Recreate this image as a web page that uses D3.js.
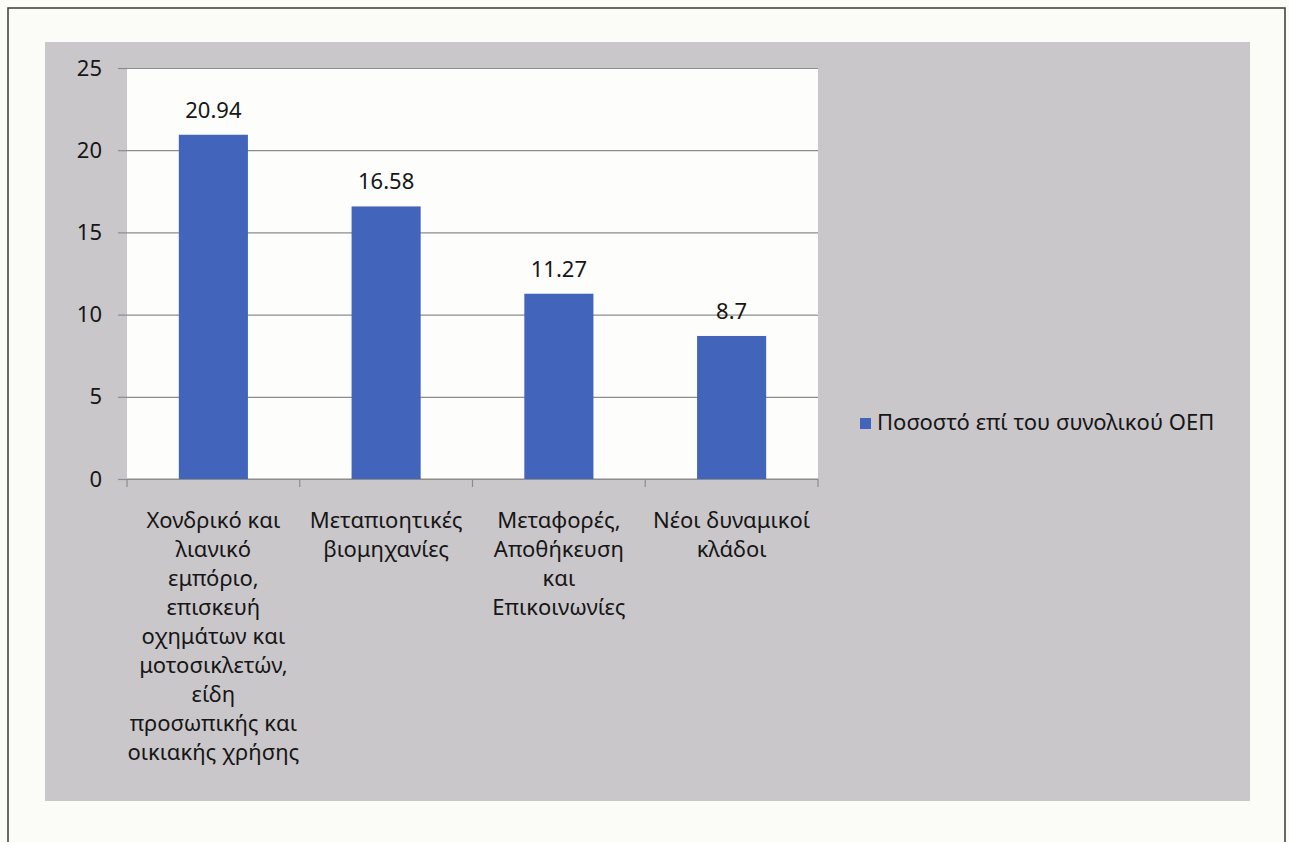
<!doctype html>
<html lang='el'>
<head>
<meta charset='UTF-8'>
<title>Bar Chart</title>
<style>
  body { margin: 0; background: #fbfbf8; }
  svg { display: block; }
  text { font-family: 'Noto Sans', sans-serif; fill: #161616; }
  .grid line { stroke: #8c8c8c; stroke-width: 1.2px; }
  .grid path { display: none; }
  .axis path, .axis line { stroke: #8c8c8c; stroke-width: 1.2px; }
  .axis text { font-size: 22px; }
</style>
</head>
<body>
<script src='https://cdn.jsdelivr.net/npm/d3@7'></script>
<script>
  const categories = [
    ['Χονδρικό και', 'λιανικό', 'εμπόριο,', 'επισκευή', 'οχημάτων και', 'μοτοσικλετών,', 'είδη', 'προσωπικής και', 'οικιακής χρήσης'],
    ['Μεταπιοητικές', 'βιομηχανίες'],
    ['Μεταφορές,', 'Αποθήκευση', 'και', 'Επικοινωνίες'],
    ['Νέοι δυναμικοί', 'κλάδοι']
  ]
  const values = [20.94, 16.58, 11.27, 8.7]
  const yTicks = [0, 5, 10, 15, 20, 25]
  const seriesName = 'Ποσοστό επί του συνολικού ΟΕΠ'

  const W = 1289, H = 842
  const plot = {left: 127, right: 818, top: 68, bottom: 479}
  const fontSize = 22

  const svg = d3.select('body').append('svg')
    .attr('width', W)
    .attr('height', H)

  // page frame
  svg.append('path')
    .attr('d', `M8,${H} V8 H1285 V${H}`)
    .attr('fill', 'none')
    .attr('stroke', '#3a3a3a')
    .attr('stroke-width', 1.5)

  // chart area
  svg.append('rect')
    .attr('x', 45).attr('y', 42)
    .attr('width', 1205).attr('height', 759)
    .attr('fill', '#cac7cb')

  svg.append('rect')
    .attr('x', plot.left).attr('y', plot.top)
    .attr('width', plot.right - plot.left).attr('height', plot.bottom - plot.top)
    .attr('fill', '#fdfdfb')

  const x = d3.scaleBand()
    .domain(d3.range(values.length))
    .range([plot.left, plot.right])
    .paddingInner(0.6)
    .paddingOuter(0.3)

  const y = d3.scaleLinear()
    .domain([0, 25])
    .range([plot.bottom, plot.top])

  svg.append('g')
    .attr('class', 'grid')
    .attr('transform', `translate(${plot.left},0)`)
    .call(d3.axisLeft(y).tickValues(yTicks).tickSize(-(plot.right - plot.left)).tickFormat(''))

  const yAxis = svg.append('g')
    .attr('class', 'axis')
    .attr('transform', `translate(${plot.left},0)`)
    .call(d3.axisLeft(y).tickValues(yTicks).tickSizeInner(9).tickSizeOuter(0).tickPadding(16))
  yAxis.select('.domain').remove()

  // x axis with ticks at category boundaries
  const step = x.step()
  const bounds = d3.range(values.length + 1)
  const xAxis = svg.append('g').attr('class', 'axis')
  xAxis.append('line')
    .attr('x1', plot.left).attr('x2', plot.right)
    .attr('y1', y(0)).attr('y2', y(0))
  xAxis.selectAll('.bt')
    .data(bounds)
    .join('line')
    .attr('class', 'bt')
    .attr('x1', i => plot.left + i * step)
    .attr('x2', i => plot.left + i * step)
    .attr('y1', y(0)).attr('y2', y(0) + 8)

  svg.selectAll('.bar')
    .data(values)
    .join('rect')
    .attr('class', 'bar')
    .attr('x', (d, i) => x(i))
    .attr('y', d => y(d))
    .attr('width', x.bandwidth())
    .attr('height', d => y(0) - y(d))
    .attr('fill', '#4265bb')

  svg.selectAll('.val')
    .data(values)
    .join('text')
    .attr('class', 'val')
    .attr('x', (d, i) => x(i) + x.bandwidth() / 2)
    .attr('y', d => y(d) - 17)
    .attr('text-anchor', 'middle')
    .attr('font-size', fontSize)
    .text(d => d)

  const catG = svg.selectAll('.cat')
    .data(categories)
    .join('text')
    .attr('class', 'cat')
    .attr('text-anchor', 'middle')
    .attr('font-size', fontSize)
  catG.selectAll('tspan')
    .data((d, i) => d.map(t => ({t, i})))
    .join('tspan')
    .attr('x', d => x(d.i) + x.bandwidth() / 2)
    .attr('y', (d, j) => 528 + j * 29)
    .text(d => d.t)

  // legend
  const lg = svg.append('g').attr('transform', 'translate(860,418)')
  lg.append('rect').attr('width', 11).attr('height', 11).attr('fill', '#4265bb')
  lg.append('text')
    .attr('x', 17).attr('y', 12)
    .attr('font-size', fontSize)
    .text(seriesName)
</script>
</body>
</html>
